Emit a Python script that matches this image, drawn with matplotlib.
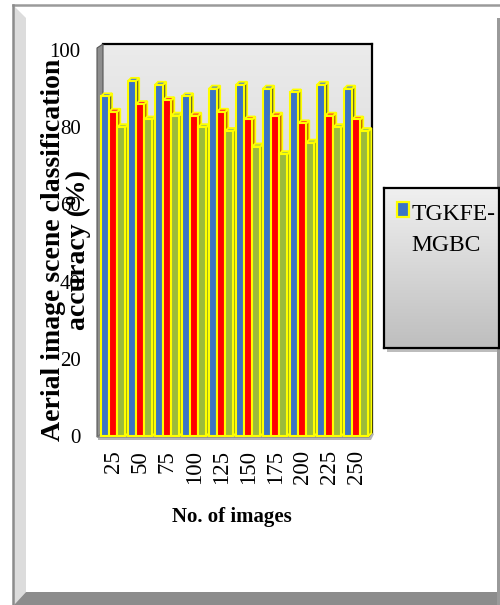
import numpy as np
import matplotlib
matplotlib.use("Agg")
import matplotlib.pyplot as plt
from matplotlib.patches import Rectangle, Polygon, Patch
from matplotlib.transforms import Affine2D
from matplotlib.legend_handler import HandlerPatch

# ---------------- data ----------------
categories = ["25", "50", "75", "100", "125", "150", "175", "200", "225", "250"]
tgkfe_mgbc = [88, 92, 91, 88, 90, 91, 90, 89, 91, 90]
method_2 = [84, 86, 87, 83, 84, 82, 83, 81, 83, 82]
method_3 = [80, 82, 83, 80, 79, 75, 73, 76, 80, 79]
y_ticks = [0, 20, 40, 60, 80, 100]
legend_label = "TGKFE-\nMGBC"

W, H = 500, 605
plt.rcParams['font.family'] = ['Liberation Serif', 'DejaVu Serif']
fig = plt.figure(figsize=(W / 100, H / 100), dpi=100)
fig.patch.set_facecolor("white")

# pixel (top-left origin) -> figure transform
PX = Affine2D().scale(1 / W, -1 / H).translate(0, 1) + fig.transFigure


def px_rect(x0, y0, x1, y1):
    return [x0 / W, 1 - y1 / H, (x1 - x0) / W, (y1 - y0) / H]


# ---------------- outer frame ----------------
fig.add_artist(Polygon([(14, 6), (26, 18), (26, 592), (14, 605)], closed=True,
                       facecolor="#DCDCDC", edgecolor="none", transform=PX))
fig.add_artist(Polygon([(14, 605), (26, 592), (500, 592), (500, 605)], closed=True,
                       facecolor="#8C8C8C", edgecolor="none", transform=PX))
fig.add_artist(Polygon([(497, 18), (500, 18), (500, 605), (497, 605)], closed=True,
                       facecolor="#9A9A9A", edgecolor="none", transform=PX))
fig.add_artist(plt.Line2D([13, 500], [5, 5], color="#9A9A9A", lw=1.8, transform=PX))
fig.add_artist(plt.Line2D([13, 13], [5, 605], color="#8C8C8C", lw=1.8, transform=PX))

# ---------------- back wall ----------------
ax_wall = fig.add_axes(px_rect(103, 44, 372, 433))
ax_wall.set_zorder(0)
grad = np.linspace(0, 1, 256).reshape(-1, 1)
ax_wall.imshow(grad, cmap=matplotlib.colors.LinearSegmentedColormap.from_list(
    "wall", ["#EBEBEB", "#C6C6C6"]), aspect="auto", extent=[0, 1, 0, 1])
ax_wall.set_xticks([])
ax_wall.set_yticks([])
for s in ["left", "bottom"]:
    ax_wall.spines[s].set_visible(False)
for s in ["top", "right"]:
    ax_wall.spines[s].set_color("black")
    ax_wall.spines[s].set_linewidth(1.6)

# left side wall and floor
fig.add_artist(Polygon([(97, 48), (103, 44), (103, 433), (97, 437)], closed=True,
                       facecolor="#8E8E8E", edgecolor="#555555", lw=0.8, transform=PX))
fig.add_artist(Polygon([(97, 437), (103, 433), (372, 433), (369, 437)], closed=True,
                       facecolor="#D0D0D0", edgecolor="#7A7A7A", lw=0.8, transform=PX))
fig.add_artist(Polygon([(98, 437), (369, 437), (372, 433), (374, 434), (371, 440), (98, 440)],
                       closed=True, facecolor="#B5B5B5", edgecolor="none", transform=PX,
                       zorder=0.5))

# ---------------- main axes ----------------
ax = fig.add_axes(px_rect(100, 50, 370, 436))
ax.set_zorder(2)
ax.patch.set_alpha(0)
ax.set_xlim(0, 10)
ax.set_ylim(0, 100)
for s in ax.spines.values():
    s.set_visible(False)

series = [
    (tgkfe_mgbc, "#3B74C4", "#5A5A30", "#4A80CC"),
    (method_2, "#FF0000", "#B84A00", "#FF2A2A"),
    (method_3, "#9BBB3B", "#7A8F28", "#A9C84A"),
]
bw = 0.30
dx = 3 / 27.0
dy = 3 / 3.86
edge = "#FFFF00"
z = 3
for gi in range(len(categories)):
    for si, (vals, cf, cs, ct) in enumerate(series):
        x0 = gi + 0.04 + si * bw
        h = vals[gi]
        side = Polygon([(x0 + bw, 0), (x0 + bw + dx, dy), (x0 + bw + dx, h + dy), (x0 + bw, h)],
                       closed=True, facecolor=cs, edgecolor=edge, lw=1.3, zorder=z, clip_on=False)
        top = Polygon([(x0, h), (x0 + dx, h + dy), (x0 + bw + dx, h + dy), (x0 + bw, h)],
                      closed=True, facecolor=ct, edgecolor=edge, lw=1.3, zorder=z, clip_on=False)
        ax.add_patch(side)
        ax.add_patch(top)
        ax.bar(x0, h, width=bw, align="edge", color=cf, edgecolor=edge, linewidth=1.5,
               zorder=z + 0.5, clip_on=False)
        z += 1

ax.set_xticks(np.arange(len(categories)) + 0.5)
ax.set_xticklabels(categories, rotation=90, fontsize=16.5, va="top")
ax.set_yticks(y_ticks)
ax.set_yticklabels([str(v) for v in y_ticks], fontsize=15)
ax.tick_params(axis="both", length=0)
ax.tick_params(axis="x", pad=10)
ax.tick_params(axis="y", pad=14)

ax.set_xlabel("No. of images", fontsize=15, fontweight="bold", va="center")
ax.xaxis.set_label_coords((232 - 100) / 270, (436 - 517) / 386)
ax.set_ylabel("Aerial image scene classification\naccuracy (%)", fontsize=20,
              fontweight="bold", va="center", ha="center", multialignment="center",
              linespacing=0.95)
ax.yaxis.set_label_coords((66 - 100) / 270, (436 - 250) / 386)

# ---------------- legend ----------------
fig.add_artist(Rectangle((387, 191), 115, 161, facecolor="#BDBDBD", edgecolor="none",
                         transform=PX, zorder=0.6))
ax_leg = fig.add_axes(px_rect(384, 188, 499, 348))
ax_leg.set_zorder(1)
ax_leg.imshow(grad, cmap=matplotlib.colors.LinearSegmentedColormap.from_list(
    "leg", ["#F0F0F0", "#BEBEBE"]), aspect="auto", extent=[0, 1, 0, 1])
ax_leg.set_xticks([])
ax_leg.set_yticks([])
for s in ax_leg.spines.values():
    s.set_color("black")
    s.set_linewidth(1.6)


def top_aligned_patch(legend, orig_handle, xdescent, ydescent, width, height, fontsize):
    return Rectangle((-xdescent, -ydescent + fontsize * 0.84), width, height)


handle = Patch(facecolor="#3B74C4", edgecolor="#FFFF00", linewidth=1.6)
leg = ax.legend([handle], [legend_label], loc="upper left",
                bbox_to_anchor=(397 / W, 1 - 204 / H), bbox_transform=fig.transFigure,
                frameon=False, fontsize=17, handlelength=0.5, handleheight=0.62,
                handletextpad=0.12, borderpad=0, borderaxespad=0,
                handler_map={Patch: HandlerPatch(patch_func=top_aligned_patch)})
for t in leg.get_texts():
    t.set_linespacing(1.6)

fig.savefig("out.png", dpi=100, facecolor="white")
